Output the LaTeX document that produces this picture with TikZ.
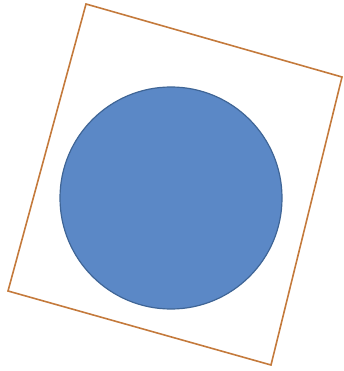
\documentclass[tikz,border=0pt]{standalone}
\usepackage[dvipsnames]{xcolor}

\definecolor{rahmen}{HTML}{C47A3C}
\definecolor{kreisfill}{HTML}{5B88C6}
\definecolor{kreisrand}{HTML}{3F6596}

\begin{document}
\begin{tikzpicture}[x=1pt, y=-1pt]
        \useasboundingbox (0,0) rectangle (344,371);

        % Rahmen (gedreht)
        \draw[rahmen, line width=1.6pt, line join=miter] (86,4) -- (342,77) -- (271,365) -- (8,291) -- cycle;

        % Kreis
        \draw[kreisrand, line width=1.2pt, fill=kreisfill] (171,198) circle (111);
    \end{tikzpicture}
\end{document}
